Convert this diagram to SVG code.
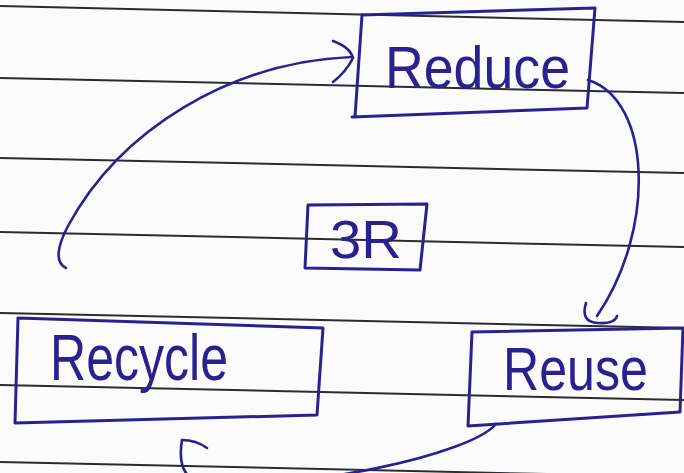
<svg xmlns="http://www.w3.org/2000/svg" width="684" height="473" viewBox="0 0 684 473">
<style>
.rule{stroke:#2b2b30;stroke-width:2;fill:none}
.box{stroke:#2a2190;stroke-width:3;fill:none;stroke-linejoin:round;stroke-linecap:round}
.ink{stroke:#2a2190;stroke-width:2.6;fill:none;stroke-linecap:round;stroke-linejoin:round}
.lbl{font-family:"Liberation Sans",Arial,sans-serif;fill:#2a2190}
</style>
<rect width="684" height="473" fill="#fbfbfb"/>
<g id="paper">
<path class="rule" d="M0,6 L684,22"/>
<path class="rule" d="M0,78 L684,93"/>
<path class="rule" d="M0,158 L684,173"/>
<path class="rule" d="M0,232 L684,247"/>
<path class="rule" d="M0,313 L684,328"/>
<path class="rule" d="M0,385 L684,400"/>
<path class="rule" d="M0,462 L684,477"/>
</g>
<g id="connectors">
<path class="ink" d="M66,268 C54,262 58,245 68,226 C120,130 230,62 352,57"/>
<path class="ink" d="M333,41 Q350,47 353,58 Q346,72 333,82"/>
<path class="ink" d="M588,80 C652,100 656,230 597,316"/>
<path class="ink" d="M586,303 Q580,322 598,323 Q615,324 617,316"/>
<path class="ink" d="M496,424 C470,455 300,492 200,482 Q176,476 182,440"/>
<path class="ink" d="M182,440 Q196,440 207,448"/>
</g>
<g id="reduce">
<path class="box" d="M362,15 L595,8 L587,108 L352,117 M362,15 L355,117"/>
<text class="lbl" x="385" y="88" font-size="60" textLength="185" lengthAdjust="spacingAndGlyphs">Reduce</text>
</g>
<g id="center3r">
<path class="box" d="M308,205 L427,204 L420,270 L305,268 Z"/>
<text class="lbl" x="330" y="258" font-size="54" textLength="72" lengthAdjust="spacingAndGlyphs">3R</text>
</g>
<g id="recycle">
<path class="box" d="M18,318 L323,328 L317,415 L15,423 Z"/>
<text class="lbl" x="50" y="380" font-size="64" textLength="178" lengthAdjust="spacingAndGlyphs">Recycle</text>
</g>
<g id="reuse">
<path class="box" d="M472,332 L683,328 L680,412 L468,426 Z"/>
<text class="lbl" x="503" y="390" font-size="62" textLength="145" lengthAdjust="spacingAndGlyphs">Reuse</text>
</g>
</svg>
